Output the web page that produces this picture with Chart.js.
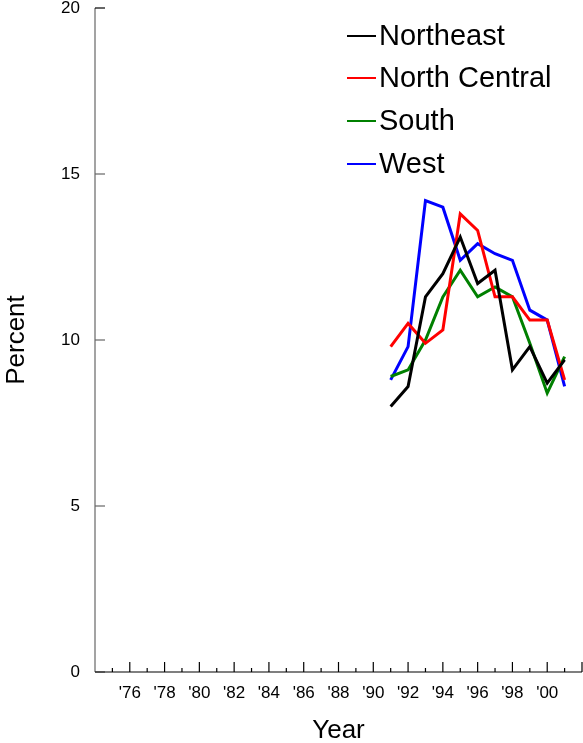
<!DOCTYPE html>
<html>
<head>
<meta charset="utf-8">
<script src="https://cdn.jsdelivr.net/npm/chart.js@4/dist/chart.umd.min.js"></script>
<style>
html,body{margin:0;padding:0;background:#fff;}
#wrap{width:583px;height:743px;position:relative;}
</style>
</head>
<body>
<div id="wrap"><canvas id="c"></canvas></div>
<script>
const years = [1991,1992,1993,1994,1995,1996,1997,1998,1999,2000,2001];
const northeast    = [8.0, 8.6, 11.3, 12.0, 13.1, 11.7, 12.1, 9.1, 9.8, 8.7, 9.4];
const northCentral = [9.8, 10.5, 9.9, 10.3, 13.8, 13.3, 11.3, 11.3, 10.6, 10.6, 8.8];
const south        = [8.9, 9.1, 10.0, 11.3, 12.1, 11.3, 11.6, 11.3, 9.9, 8.4, 9.5];
const west         = [8.8, 9.8, 14.2, 14.0, 12.4, 12.9, 12.6, 12.4, 10.9, 10.6, 8.6];
const seriesNames  = ["Northeast", "North Central", "South", "West"];
const xTickYears   = [1976,1978,1980,1982,1984,1986,1988,1990,1992,1994,1996,1998,2000];
const xTickLabels  = ["'76","'78","'80","'82","'84","'86","'88","'90","'92","'94","'96","'98","'00"];
const yTickValues  = [0,5,10,15,20];

const FONT = "'Liberation Sans', Arial, sans-serif";
const colors = ["#000000", "#ff0000", "#008000", "#0000ff"];
const seriesData = [northeast, northCentral, south, west];

const datasets = seriesNames.map((name, i) => ({
  label: name,
  data: years.map((y, j) => ({x: y, y: seriesData[i][j]})),
  borderColor: colors[i],
  backgroundColor: colors[i],
  borderWidth: 3,
  pointRadius: 0,
  tension: 0,
  fill: false
}));

const axesPlugin = {
  id: 'axesPlugin',
  afterDraw(chart) {
    const ctx = chart.ctx;
    const xs = chart.scales.x, ys = chart.scales.y;
    const ca = chart.chartArea;
    ctx.save();
    ctx.strokeStyle = '#666';
    ctx.lineWidth = 1.2;
    ctx.beginPath();
    ctx.moveTo(ca.left, ca.top);
    ctx.lineTo(ca.left, ca.bottom);
    ctx.stroke();
    yTickValues.forEach(v => {
      const py = ys.getPixelForValue(v);
      ctx.strokeStyle = v === 20 ? '#000' : '#666';
      ctx.beginPath();
      ctx.moveTo(ca.left, py);
      ctx.lineTo(ca.left + 10, py);
      ctx.stroke();
    });
    ctx.strokeStyle = '#000';
    ctx.lineWidth = 1.2;
    ctx.beginPath();
    ctx.moveTo(ca.left, ca.bottom);
    ctx.lineTo(ca.right, ca.bottom);
    ctx.stroke();
    for (let yr = xs.min + 1; yr <= xs.max; yr++) {
      const px = xs.getPixelForValue(yr);
      const len = (yr % 2 === 0) ? 10 : 4;
      ctx.beginPath();
      ctx.moveTo(px, ca.bottom);
      ctx.lineTo(px, ca.bottom - len);
      ctx.stroke();
    }
    ctx.font = '29px ' + FONT;
    ctx.textBaseline = 'middle';
    ctx.textAlign = 'left';
    const legendY = [36, 78, 121, 164];
    chart.data.datasets.forEach((ds, i) => {
      const y = legendY[i];
      ctx.strokeStyle = ds.borderColor;
      ctx.lineWidth = 2;
      ctx.beginPath();
      ctx.moveTo(347, y);
      ctx.lineTo(376, y);
      ctx.stroke();
      ctx.fillStyle = '#000';
      ctx.fillText(ds.label, 379, y + 1);
    });
    ctx.restore();
  }
};

new Chart(document.getElementById('c'), {
  type: 'line',
  data: { datasets },
  plugins: [axesPlugin],
  options: {
    responsive: true,
    maintainAspectRatio: false,
    animation: false,
    layout: { padding: { top: 8, right: 1, left: 0, bottom: 0 } },
    plugins: { legend: { display: false }, tooltip: { enabled: false } },
    scales: {
      x: {
        type: 'linear',
        min: 1974,
        max: 2002,
        grid: { display: false, drawTicks: false },
        border: { display: false },
        afterBuildTicks(scale) {
          scale.ticks = xTickYears.map(v => ({ value: v }));
        },
        afterFit(scale) { scale.height = 71; scale.paddingLeft = 0; scale.paddingRight = 0; },
        ticks: {
          autoSkip: false,
          maxRotation: 0,
          padding: 11,
          color: '#000',
          font: { family: FONT, size: 17 },
          callback: (v) => {
            const idx = xTickYears.indexOf(v);
            return idx >= 0 ? xTickLabels[idx] : '';
          }
        },
        title: {
          display: true,
          text: 'Year',
          color: '#000',
          font: { family: FONT, size: 26 },
          padding: { top: 0, bottom: -3 }
        }
      },
      y: {
        type: 'linear',
        min: 0,
        max: 20,
        grid: { display: false, drawTicks: false },
        border: { display: false },
        afterBuildTicks(scale) {
          scale.ticks = yTickValues.map(v => ({ value: v }));
        },
        afterFit(scale) { scale.width = 95; scale.paddingTop = 0; scale.paddingBottom = 0; },
        ticks: {
          padding: 15,
          color: '#000',
          font: { family: FONT, size: 17 }
        },
        title: {
          display: true,
          text: 'Percent',
          color: '#000',
          font: { family: FONT, size: 26 },
          padding: { top: 1, bottom: 0 }
        }
      }
    }
  }
});
</script>
</body>
</html>
